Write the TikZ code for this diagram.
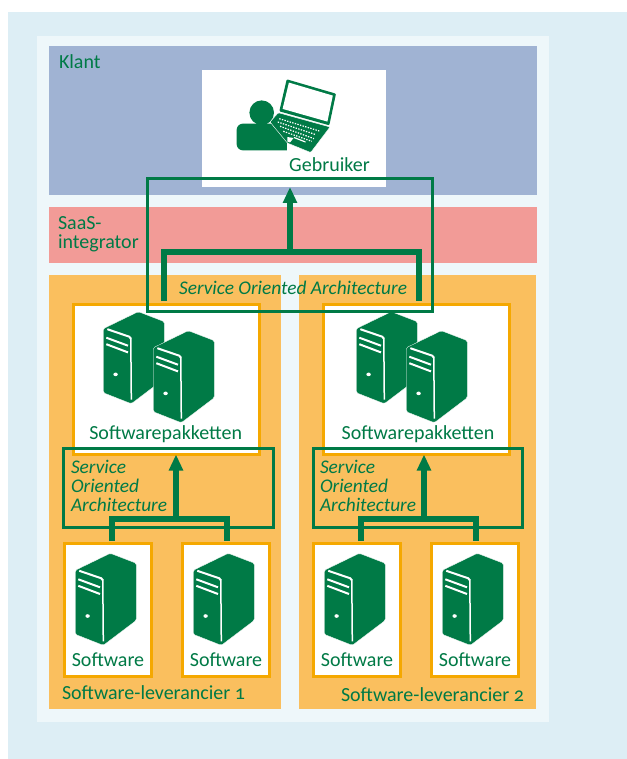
\documentclass[tikz,border=0pt]{standalone}
\usepackage{fontspec}
\setmainfont[Numbers=OldStyle]{Carlito}
\usetikzlibrary{arrows.meta}
\definecolor{gr}{HTML}{007A46}
\definecolor{paleA}{HTML}{DDEEF5}
\definecolor{paleB}{HTML}{EEF7FA}
\definecolor{klantc}{HTML}{A0B3D3}
\definecolor{saasc}{HTML}{F29B97}
\definecolor{lev}{HTML}{FABF5E}
\definecolor{edge}{HTML}{F5A800}
\def\u{.75pt}
\tikzset{
  panel/.style={fill=#1,draw=none,inner sep=0,outer sep=0},
  whitebox/.style={fill=white,draw=edge,line width=3*\u,inner sep=0,outer sep=0},
  frame/.style={draw=gr,line width=3*\u,inner sep=0,outer sep=0,fill=none},
  tree/.style={draw=gr,line width=5.2*\u,line join=miter},
  stem/.style={draw=gr,line width=5.2*\u,-{Triangle[length=16*\u,width=13.5*\u]}},
  lab/.style={text=gr,inner sep=0,outer sep=0,font=\fontsize{15}{17}\selectfont},
  soa/.style={lab,anchor=north west,align=left,font=\fontsize{14.5}{14.25}\selectfont\itshape},
  servericon/.pic={
    \fill[gr,rounded corners=1.5*\u,draw=white,line width=.3*\u] (0,17) -- (35,0) -- (61,10) -- (61,67) -- (28,92) -- (0,81) -- cycle;
    \draw[white,line width=2*\u] (4,17.5) -- (26,25) -- (27.5,27);
    \draw[white,line width=1.5*\u] (27.5,26) -- (28,88);
    \draw[white,line width=2*\u] (3,26) -- (24.7,34);
    \draw[white,line width=2*\u] (3,32.5) -- (24.7,40.7);
    \fill[white] (12.3,62.7) ellipse (2.2 and 1.8);
  }
}
\begin{document}
\begin{tikzpicture}[x=.75pt,y=-.75pt]
\useasboundingbox (0,0) rectangle (627,759);
% backgrounds
\fill[paleA] (8,12) rectangle (627,759);
\fill[paleB] (37,36) rectangle (549,722);
\node[panel=klantc,minimum width=488*\u,minimum height=149*\u] (klant) at (293,120.5) {};
\node[panel=saasc,minimum width=488*\u,minimum height=56*\u] (saas) at (293,235) {};
\node[panel=lev,minimum width=232*\u,minimum height=434*\u] (lev1) at (165,492) {};
\node[panel=lev,minimum width=237*\u,minimum height=434*\u] (lev2) at (417.5,492) {};
% white boxes
\node[panel=white,minimum width=184*\u,minimum height=117*\u] (user) at (294,128.5) {};
\node[whitebox,minimum width=186*\u,minimum height=150*\u] (pak1) at (166.7,379.5) {};
\node[whitebox,minimum width=186*\u,minimum height=150*\u] (pak2) at (416.5,379.5) {};
\foreach \n/\x in {s1/108,s2/226,s3/357,s4/475}
  \node[whitebox,minimum width=87.5*\u,minimum height=133*\u] (\n) at (\x,610) {};
% person and laptop
\fill[gr] (261.7,112.7) circle (12.3);
\fill[gr,rounded corners=6*\u] (236.7,150.3) -- (236.7,123.7) -- (300,123.7) -- (300,150.3) -- cycle;
\fill[white] (287.3,120) rectangle (302,152);
\fill[gr,rounded corners=1*\u] (286.7,79.3) -- (336,93.7) -- (329.3,125.3) -- (279.3,111.3) -- cycle;
\fill[white] (288.9,82.6) -- (332.8,95.6) -- (327.4,121.6) -- (282.6,108.9) -- cycle;
\fill[gr,draw=white,line width=.4*\u,rounded corners=1*\u] (278.3,112.7) -- (330,127) -- (310.7,152.5) -- (287.3,143) -- (270,122) -- cycle;
\begin{scope}[white,line width=1.2*\u,dash pattern=on 1.4*\u off 1.3*\u]
\draw (279.3,118.7) -- (319.3,131);
\draw (277.7,122) -- (316,134.7);
\draw (280,126.3) -- (314,138.7);
\draw (283.3,131.3) -- (311.7,141.3);
\end{scope}
\fill[white] (287.3,137) -- (293.5,138) -- (290,142.5) -- (287.3,141.5) -- cycle;
\draw[white,line width=1.2*\u] (294,137.5) -- (305.5,142);
% servers
\pic at (103.3,311.7) {servericon};
\pic at (153.3,330.7) {servericon};
\pic at (356.3,311.7) {servericon};
\pic at (406.3,330.7) {servericon};
\pic at (75.3,553.3) {servericon};
\pic at (193.3,553.3) {servericon};
\pic at (324.3,553.3) {servericon};
\pic at (442.3,553.3) {servericon};
% frames
\node[frame,minimum width=285*\u,minimum height=132*\u] (soaTop) at (290,245) {};
\node[frame,minimum width=209.5*\u,minimum height=79.5*\u] (soaL) at (168.7,488) {};
\node[frame,minimum width=209.5*\u,minimum height=79.5*\u] (soaR) at (418,488) {};
% connector junctions and free ends
\coordinate (jT) at (290,252);
\coordinate (tA) at (164,301);
\coordinate (tB) at (419,301);
\coordinate (jL) at (176,519);
\coordinate (lA) at (112,541);
\coordinate (lB) at (227,541);
\coordinate (jR) at (424,519);
\coordinate (rA) at (361,541);
\coordinate (rB) at (476,541);
\draw[tree] (tA) |- (jT) -| (tB);
\draw[stem] (jT) -- (jT |- user.south);
\draw[tree] (lA) |- (jL) -| (lB);
\draw[stem] (jL) -- (jL |- pak1.south);
\draw[tree] (rA) |- (jR) -| (rB);
\draw[stem] (jR) -- (jR |- pak2.south);
% labels
\node[lab,anchor=west] (tKlant) at (59,62) {Klant};
\node[lab] (tUser) at (329.5,165) {Gebruiker};
\node[lab,anchor=north west,align=left,font=\fontsize{15}{14.25}\selectfont] (tSaas) at (58,217) {SaaS-\\integrator};
\node[lab,font=\fontsize{14.5}{15}\selectfont\itshape] (tSoa) at (293,288) {Service Oriented Architecture};
\node[lab] (tP1) at (165.7,434.5) {Softwarepakketten};
\node[lab] (tP2) at (418,434.5) {Softwarepakketten};
\node[soa] (tS1) at (71,460.5) {Service\\Oriented\\Architecture};
\node[soa] (tS2) at (320,460.5) {Service\\Oriented\\Architecture};
\node[lab] (t1) at (108,660) {Software};
\node[lab] (t2) at (226,660) {Software};
\node[lab] (t3) at (357,660) {Software};
\node[lab] (t4) at (475,660) {Software};
\node[lab,anchor=west] (tV1) at (62,693) {Software-leverancier 1};
\node[lab,anchor=west] (tV2) at (341,695) {Software-leverancier 2};
\end{tikzpicture}
\end{document}
